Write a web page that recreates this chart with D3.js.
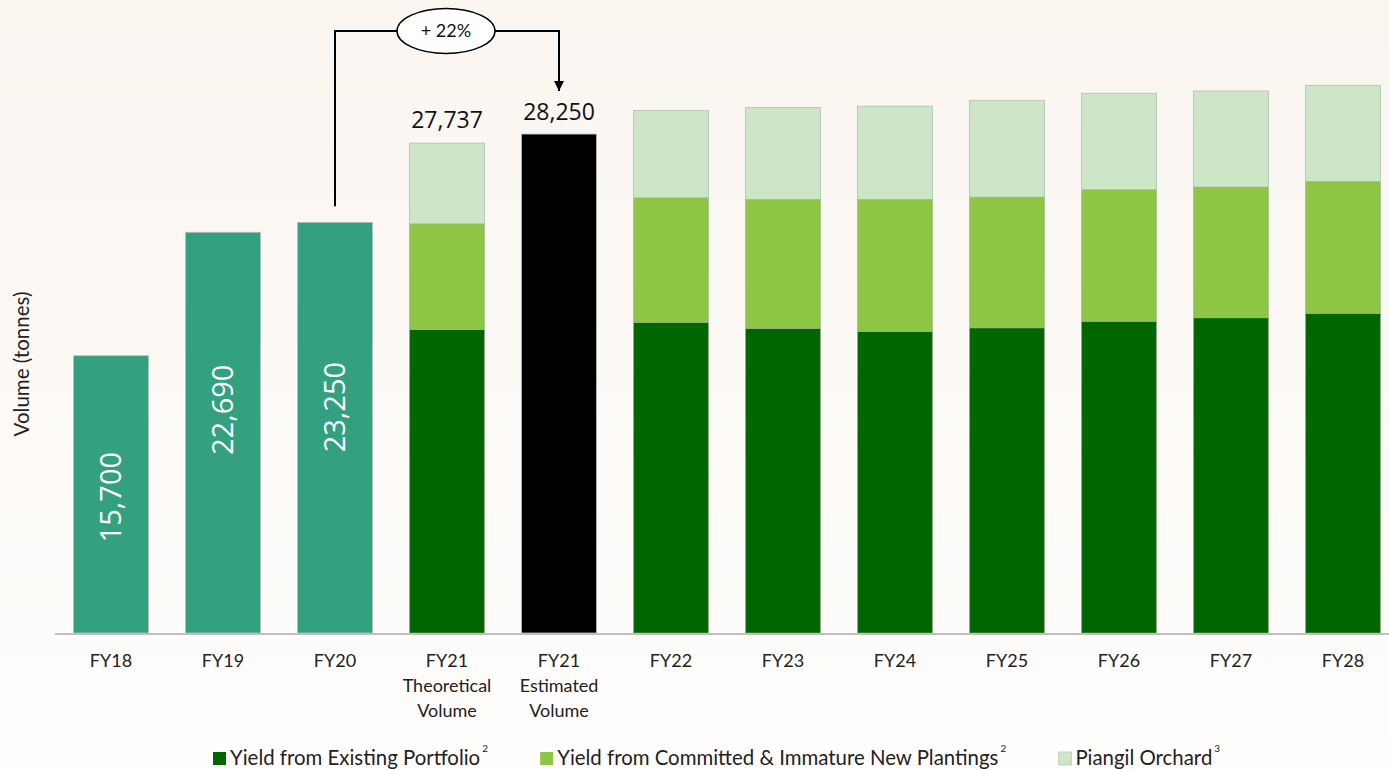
<!DOCTYPE html>
<html><head><meta charset="utf-8">
<script src="https://cdn.jsdelivr.net/npm/d3@7"></script>
<style>html,body{margin:0;padding:0;background:#fff;} svg{display:block;}</style>
</head><body><svg id="chart" width="1389" height="770"></svg>
<script>
// ---------- data ----------
const categories = ["FY18","FY19","FY20","FY21 Theoretical","FY21 Estimated","FY22","FY23","FY24","FY25","FY26","FY27","FY28"];
const tickLabels = [["FY18"],["FY19"],["FY20"],["FY21","Theoretical","Volume"],["FY21","Estimated","Volume"],["FY22"],["FY23"],["FY24"],["FY25"],["FY26"],["FY27"],["FY28"]];
const historicalCategories = ["FY18","FY19","FY20"];
const historicalValues = [15700, 22690, 23250];
const estimatedCategory = "FY21 Estimated";
const estimatedValue = 28250;
const forecastCategories = ["FY21 Theoretical","FY22","FY23","FY24","FY25","FY26","FY27","FY28"];
const existingPortfolio  = [17190, 17590, 17250, 17080, 17280, 17650, 17850, 18100];
const committedPlantings = [5980, 7050, 7300, 7470, 7400, 7450, 7400, 7470];
const piangilOrchard     = [4567, 4950, 5210, 5280, 5480, 5460, 5440, 5440];
const theoreticalTotalLabel = "27,737";
const seriesNames = ["Yield from Existing Portfolio","Yield from Committed & Immature New Plantings","Piangil Orchard"];
const seriesNotes = ["2","2","3"];
const growthLabel = "+ 22%";
const yAxisTitle = "Volume (tonnes)";

// ---------- setup ----------
const W = 1389, H = 770;
const svg = d3.select("#chart");
const defs = svg.append("defs");
const grad = defs.append("linearGradient").attr("id","bg").attr("x1",0).attr("y1",0).attr("x2",0).attr("y2",1);
grad.append("stop").attr("offset","0").attr("stop-color","#FAF5EF");
grad.append("stop").attr("offset","1").attr("stop-color","#FFFEFD");
svg.append("rect").attr("width",W).attr("height",H).attr("fill","url(#bg)");

const mk = defs.append("marker").attr("id","arrow").attr("viewBox","0 0 10 10")
  .attr("refX",10).attr("refY",5).attr("markerWidth",5).attr("markerHeight",6)
  .attr("markerUnits","strokeWidth").attr("orient","auto");
mk.append("path").attr("d","M0,0 L10,5 L0,10 z").attr("fill","#000");

const colTeal = "#33A080", colDark = "#006600", colMid = "#8DC642", colPale = "#CCE6C6";
const labelFont = "Lato, 'Liberation Sans', sans-serif";
const numFont = "'Open Sans', 'Noto Sans', sans-serif";

const x = d3.scaleBand().domain(categories).range([55, 1399]).paddingInner(0.33).paddingOuter(0.165);
const y = d3.scaleLinear().domain([0, 35840]).range([633, 0]);
const bw = x.bandwidth();

// historical bars
const hist = historicalCategories.map((c,i)=>({c, v: historicalValues[i]}));
svg.append("g").selectAll("rect").data(hist).join("rect")
  .attr("x", d=>x(d.c)).attr("width", bw)
  .attr("y", d=>y(d.v)).attr("height", d=>y(0)-y(d.v))
  .attr("fill", colTeal).attr("stroke","#BDBDBD").attr("stroke-width",0.8);

const labelFrac = [0.49, 0.557, 0.55];
svg.append("g").selectAll("text").data(hist).join("text")
  .attr("transform",(d,i)=>`translate(${x(d.c)+bw/2+10},${y(d.v*labelFrac[i])}) rotate(-90)`)
  .attr("text-anchor","middle").attr("fill","#fff")
  .attr("font-family",numFont).attr("font-size",29)
  .text(d=>d3.format(",")(d.v));

// estimated bar
svg.append("rect").attr("x",x(estimatedCategory)).attr("width",bw)
  .attr("y",y(estimatedValue)).attr("height",y(0)-y(estimatedValue))
  .attr("fill","#000").attr("stroke","#BDBDBD").attr("stroke-width",0.8);
svg.append("text").attr("x",x(estimatedCategory)+bw/2).attr("y",y(estimatedValue)-14)
  .attr("text-anchor","middle").attr("font-family",numFont).attr("font-size",23).attr("fill","#111")
  .text(d3.format(",")(estimatedValue));

// stacked forecast bars
const rows = forecastCategories.map((c,i)=>({c, existing: existingPortfolio[i], committed: committedPlantings[i], piangil: piangilOrchard[i]}));
const stack = d3.stack().keys(["existing","committed","piangil"])(rows);
const colors = [colDark, colMid, colPale];
svg.append("g").selectAll("g").data(stack).join("g")
  .attr("fill",(d,i)=>colors[i])
  .selectAll("rect").data(d=>d).join("rect")
  .attr("x", d=>x(d.data.c)).attr("width", bw)
  .attr("y", d=>y(d[1])).attr("height", d=>y(d[0])-y(d[1]))
  .attr("stroke","rgba(160,175,160,0.7)").attr("stroke-width",0.8);

const theo = rows[0];
svg.append("text").attr("x",x(theo.c)+bw/2).attr("y",y(theo.existing+theo.committed+theo.piangil)-15)
  .attr("text-anchor","middle").attr("font-family",numFont).attr("font-size",23).attr("fill","#111")
  .text(theoreticalTotalLabel);

// baseline
svg.append("line").attr("x1",55).attr("x2",W).attr("y1",y(0)+1).attr("y2",y(0)+1)
  .attr("stroke","#BFBFBF").attr("stroke-width",2);

// x-axis labels
const xAxis = d3.axisBottom(x).tickSize(0).tickFormat("");
const ax = svg.append("g").attr("transform",`translate(0,${y(0)})`).call(xAxis);
ax.select(".domain").remove();
ax.selectAll(".tick").each(function(d,i){
  const t = d3.select(this).append("text").attr("fill","#222")
    .attr("font-family",labelFont).attr("font-size",18).attr("text-anchor","middle");
  tickLabels[i].forEach((s,j)=>t.append("tspan").attr("x",0).attr("y",34+j*25).text(s));
});

// y-axis title
svg.append("text").attr("transform","translate(29,364) rotate(-90)")
  .attr("text-anchor","middle").attr("font-family",labelFont).attr("font-size",20.5).attr("fill","#222")
  .text(yAxisTitle);

// growth annotation
const xa = x("FY20")+bw/2, xb = x(estimatedCategory)+bw/2, topY = 31;
const ecx = (xa+xb)/2 - 1;
svg.append("path").attr("d",`M${xa},${y(historicalValues[2])-16} V${topY} H${ecx-49}`)
  .attr("fill","none").attr("stroke","#000").attr("stroke-width",2);
svg.append("path").attr("d",`M${ecx+49},${topY} H${xb} V${y(estimatedValue)-43}`)
  .attr("fill","none").attr("stroke","#000").attr("stroke-width",2).attr("marker-end","url(#arrow)");
svg.append("ellipse").attr("cx",ecx).attr("cy",topY).attr("rx",49).attr("ry",22.5)
  .attr("fill","#fff").attr("stroke","#000").attr("stroke-width",1.5);
svg.append("text").attr("x",ecx).attr("y",topY+6).attr("text-anchor","middle")
  .attr("font-family",labelFont).attr("font-size",18).attr("fill","#111").text(growthLabel);

// legend
const lg = svg.append("g").attr("transform","translate(0,758)");
let cx = 213;
seriesNames.forEach((n,i)=>{
  lg.append("rect").attr("x",cx).attr("y",-6).attr("width",13).attr("height",13).attr("fill",colors[i])
    .attr("stroke", i===2 ? "#B8CDB4" : "none").attr("stroke-width",0.8);
  const t = lg.append("text").attr("x",cx+17).attr("y",7).attr("font-family",labelFont)
    .attr("font-size",20.4).attr("fill","#222").text(n);
  const tw = t.node().getComputedTextLength();
  lg.append("text").attr("x",cx+17+tw+2).attr("y",-6).attr("font-family",labelFont)
    .attr("font-size",10).attr("fill","#222").text(seriesNotes[i]);
  cx = cx + 17 + tw + 60;
});
</script></body></html>
